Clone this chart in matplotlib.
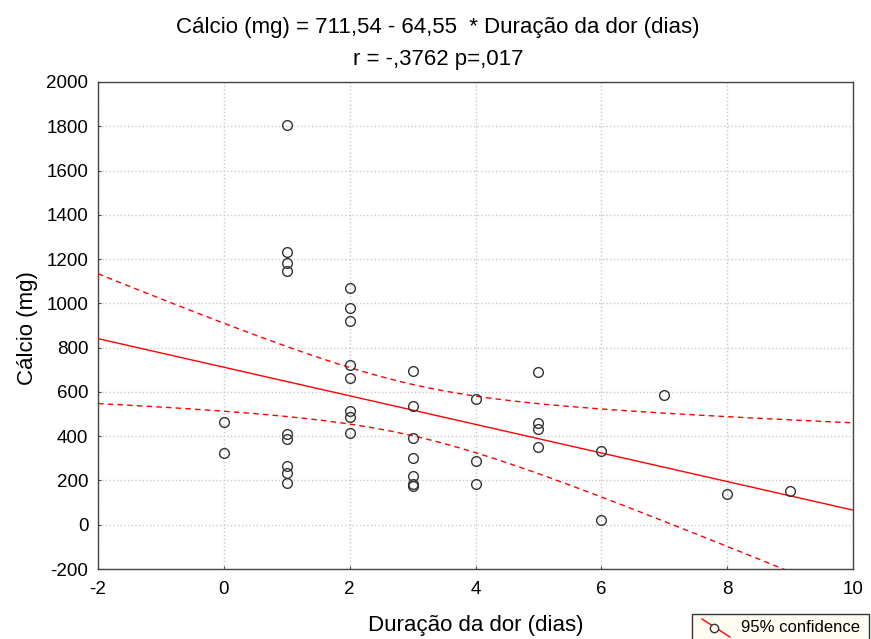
import numpy as np
import matplotlib
matplotlib.use("Agg")
import matplotlib.pyplot as plt
from matplotlib.lines import Line2D
from matplotlib.patches import Rectangle

plt.rcParams['font.family'] = ['Liberation Sans', 'DejaVu Sans']
plt.rcParams['axes.unicode_minus'] = False

# Data
dias = [0, 0,
        1, 1, 1, 1, 1, 1, 1, 1, 1,
        2, 2, 2, 2, 2, 2, 2, 2,
        3, 3, 3, 3, 3, 3, 3,
        4, 4, 4,
        5, 5, 5, 5,
        6, 6,
        7, 8, 9]
calcio = [464, 324,
          1805, 1230, 1183, 1146, 411, 386, 266, 232, 187,
          1070, 980, 919, 721, 664, 515, 488, 414,
          694, 536, 392, 303, 221, 182, 176,
          566, 286, 185,
          689, 458, 431, 350,
          334, 21,
          585, 138, 152]

intercept = 711.54
slope = -64.55
T_CRIT = 2.024

x = np.array(dias, float)
y = np.array(calcio, float)
n = len(x)
resid = y - (intercept + slope * x)
s = np.sqrt(np.sum(resid ** 2) / (n - 2))
xbar = x.mean()
sxx = np.sum((x - xbar) ** 2)

xs = np.linspace(-2, 10, 200)
fit = intercept + slope * xs
half = T_CRIT * s * np.sqrt(1.0 / n + (xs - xbar) ** 2 / sxx)

W, H = 871, 639
fig = plt.figure(figsize=(W / 100, H / 100), dpi=100)
ax = fig.add_axes([98 / W, 1 - 569 / H, (853 - 98) / W, (569 - 82) / H])

ax.grid(True, color='#c8c8c8', linestyle=':', linewidth=1.0)
ax.set_axisbelow(True)

ax.plot(xs, fit, color='red', linewidth=1.0, zorder=3)
ax.plot(xs, fit + half, color='red', linewidth=1.0, linestyle=(0, (4, 3)), zorder=3)
ax.plot(xs, fit - half, color='red', linewidth=1.0, linestyle=(0, (4, 3)), zorder=3)
ax.plot(x, y, linestyle='none', marker='o', markersize=7, markerfacecolor='none',
        markeredgecolor='#333333', markeredgewidth=1.0, zorder=4)

ax.set_xlim(-2, 10)
ax.set_ylim(-200, 2000)
ax.set_xticks(range(-2, 11, 2))
ax.set_yticks(range(-200, 2001, 200))
ax.tick_params(labelsize=13.5, length=2.5, direction='in', color='#444444')
ax.tick_params(axis='x', pad=9)
ax.tick_params(axis='y', pad=7)
for sp in ax.spines.values():
    sp.set_color('#444444')
    sp.set_linewidth(1.0)

fig.text(476 / W, 1 - 625 / H, 'Duração da dor (dias)', ha='center', va='center', fontsize=16)
fig.text(28 / W, 1 - 328 / H, 'Cálcio (mg)', ha='center', va='center', fontsize=16,
         rotation=90)

fig.text(438 / W, 1 - 28 / H, 'Cálcio (mg) = 711,54 - 64,55  * Duração da dor (dias)',
         ha='center', va='center', fontsize=16)
fig.text(438 / W, 1 - 59 / H, 'r = -,3762 p=,017', ha='center', va='center', fontsize=16)

# Legend box (partially cut off at the figure bottom, as in the reference)
fig.patches.append(Rectangle((692 / W, -0.02), (869 - 692) / W, (25 / H) + 0.02,
                             transform=fig.transFigure, facecolor='#fffcf2',
                             edgecolor='#333333', linewidth=1.0))
fig.lines.append(Line2D([702 / W, 730 / W], [1 - 619 / H, 1 - 637 / H],
                        transform=fig.transFigure, color='red', linewidth=1.0))
fig.lines.append(Line2D([714 / W], [1 - 628 / H], transform=fig.transFigure,
                        marker='o', markersize=6, markerfacecolor='white',
                        markeredgecolor='#333333', markeredgewidth=1.0))
fig.text(741 / W, 1 - 628 / H, '95% confidence', ha='left', va='center', fontsize=12)

fig.savefig('out.png', dpi=100)
